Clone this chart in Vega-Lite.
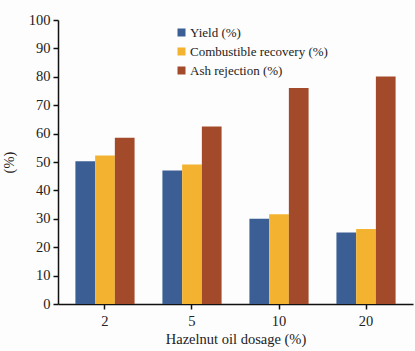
{
  "$schema": "https://vega.github.io/schema/vega-lite/v6.json",
  "width": 355,
  "height": 284,
  "autosize": {"type": "none"},
  "padding": {"left": 58, "top": 20, "right": 2, "bottom": 47},
  "background": "#fdfdfd",
  "config": {
    "font": "Liberation Serif, Times New Roman, serif",
    "view": {"stroke": null},
    "axis": {"grid": false, "domainColor": "#111", "tickColor": "#111", "domainWidth": 1.5, "tickWidth": 1.5, "labelColor": "#222", "titleColor": "#222", "labelFont": "Liberation Serif, Times New Roman, serif", "titleFont": "Liberation Serif, Times New Roman, serif", "labelFontSize": 14.5, "titleFontSize": 14.5, "titleFontWeight": "normal"},
    "legend": {"labelFont": "Liberation Serif, Times New Roman, serif"}
  },
  "data": {
    "values": [
      {"dosage": "2", "series": "Yield (%)", "value": 50.3},
      {"dosage": "2", "series": "Combustible recovery (%)", "value": 52.3},
      {"dosage": "2", "series": "Ash rejection (%)", "value": 58.5},
      {"dosage": "5", "series": "Yield (%)", "value": 47.0},
      {"dosage": "5", "series": "Combustible recovery (%)", "value": 49.1},
      {"dosage": "5", "series": "Ash rejection (%)", "value": 62.5},
      {"dosage": "10", "series": "Yield (%)", "value": 30.0},
      {"dosage": "10", "series": "Combustible recovery (%)", "value": 31.6},
      {"dosage": "10", "series": "Ash rejection (%)", "value": 76.1},
      {"dosage": "20", "series": "Yield (%)", "value": 25.2},
      {"dosage": "20", "series": "Combustible recovery (%)", "value": 26.4},
      {"dosage": "20", "series": "Ash rejection (%)", "value": 80.1}
    ]
  },
  "mark": {"type": "bar"},
  "encoding": {
    "x": {
      "field": "dosage", "type": "ordinal", "sort": ["2", "5", "10", "20"],
      "scale": {"paddingInner": 0.32, "paddingOuter": 0.2},
      "axis": {"title": "Hazelnut oil dosage (%)", "labelAngle": 0, "tickSize": 5, "labelPadding": 5, "titlePadding": 5}
    },
    "xOffset": {"field": "series", "type": "nominal", "sort": ["Yield (%)", "Combustible recovery (%)", "Ash rejection (%)"], "scale": {"paddingInner": 0, "paddingOuter": 0}},
    "y": {
      "field": "value", "type": "quantitative",
      "scale": {"domain": [0, 100], "nice": false},
      "axis": {"title": "(%)", "values": [0,10,20,30,40,50,60,70,80,90,100], "tickSize": 5, "labelPadding": 3, "titlePadding": 12}
    },
    "color": {
      "field": "series", "type": "nominal",
      "sort": ["Yield (%)", "Combustible recovery (%)", "Ash rejection (%)"],
      "scale": {"range": ["#3B5F95", "#F3B331", "#A34A2B"]},
      "legend": {"title": null, "orient": "none", "legendX": 117, "legendY": 6, "symbolType": "square", "symbolSize": 64, "symbolStrokeWidth": 0, "symbolOpacity": 1, "labelFontSize": 13, "labelColor": "#222", "rowPadding": 5, "labelOffset": 2}
    }
  }
}
